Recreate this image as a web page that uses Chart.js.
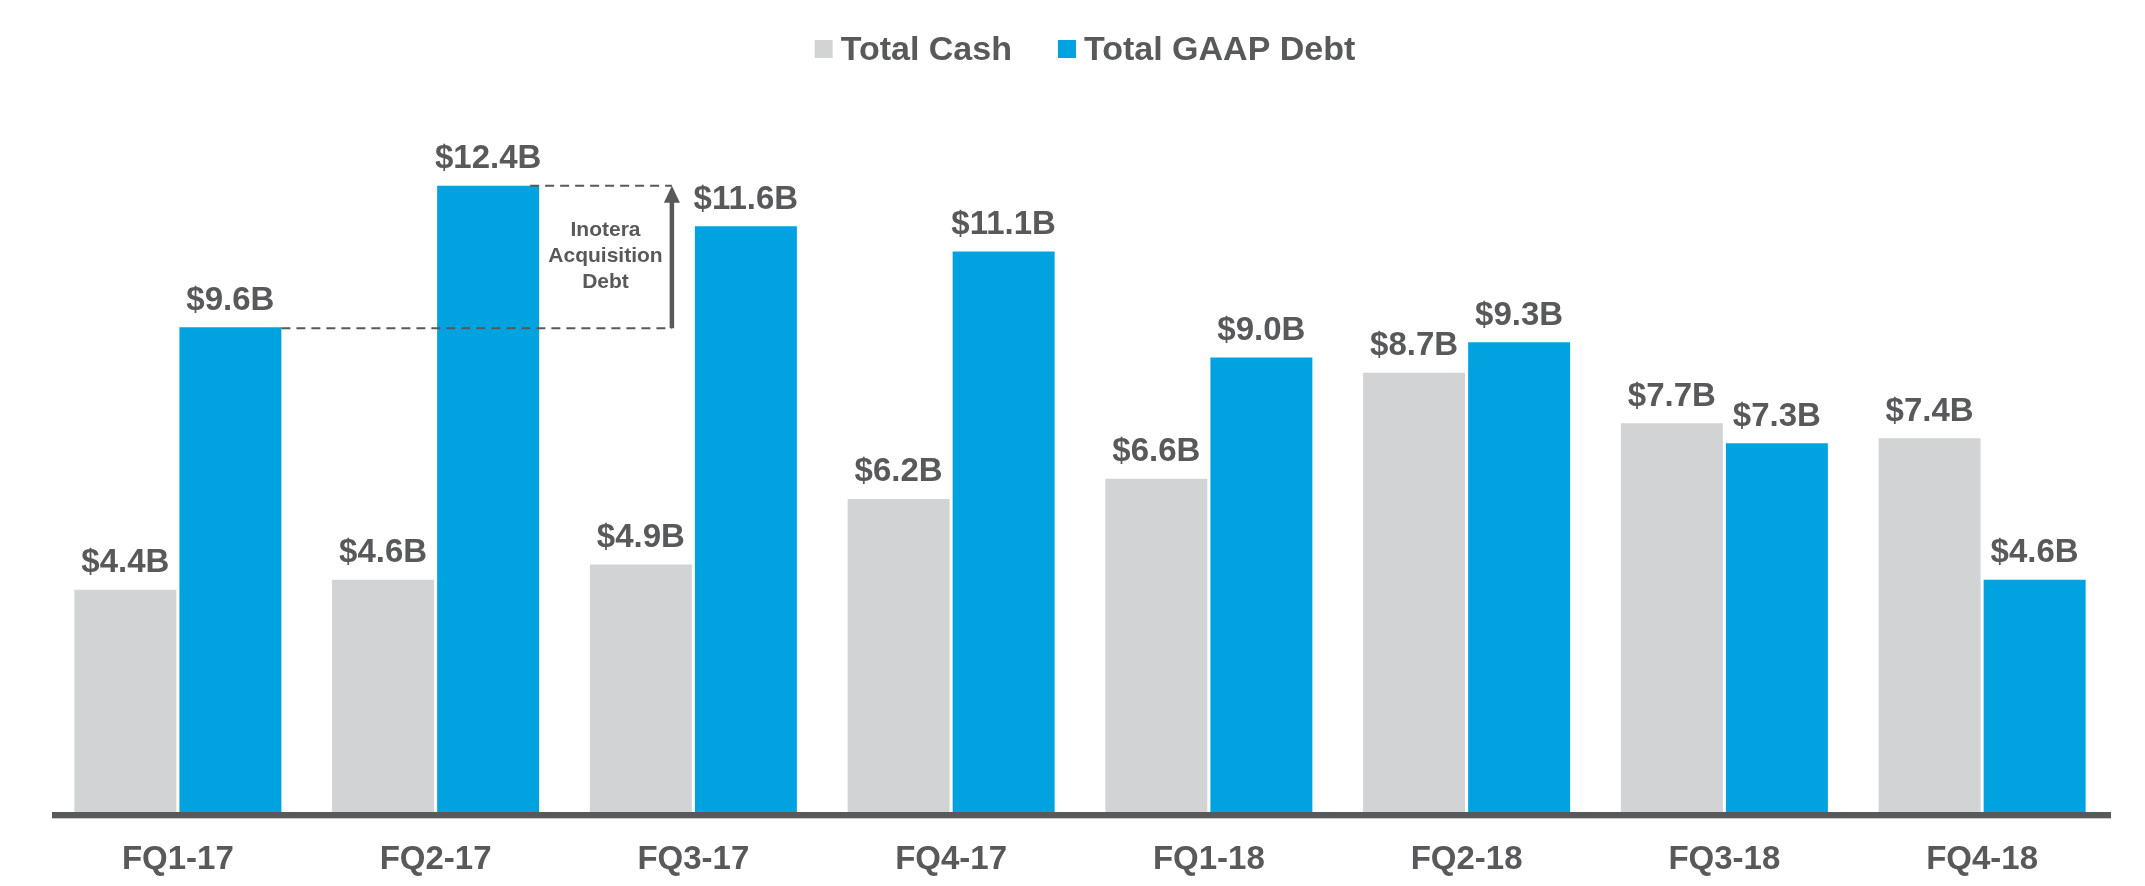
<!DOCTYPE html>
<html>
<head>
<meta charset="utf-8">
<script src="https://cdn.jsdelivr.net/npm/chart.js@4.4.1/dist/chart.umd.min.js"></script>
<style>
html,body{margin:0;padding:0;background:#fff;}
#wrap{width:2145px;height:886px;position:relative;}
</style>
</head>
<body>
<div id="wrap"><canvas id="c"></canvas></div>
<script>
// ---- data ----
const categories = ['FQ1-17','FQ2-17','FQ3-17','FQ4-17','FQ1-18','FQ2-18','FQ3-18','FQ4-18'];
const totalCash = [4.4, 4.6, 4.9, 6.2, 6.6, 8.7, 7.7, 7.4];
const totalDebt = [9.6, 12.4, 11.6, 11.1, 9.0, 9.3, 7.3, 4.6];
const seriesNames = ['Total Cash', 'Total GAAP Debt'];
const annotationLines = ['Inotera', 'Acquisition', 'Debt'];
const annotationFrom = 0; // FQ1-17 debt
const annotationTo = 1;   // FQ2-17 debt

const TEXT = '#58595B';
const GRAY = '#D1D3D4';
const BLUE = '#00A3E0';
const FONT = '"Liberation Sans", Arial, Helvetica, sans-serif';

const fmt = v => '$' + v.toFixed(1) + 'B';

const valueLabels = {
  id: 'valueLabels',
  afterDatasetsDraw(chart) {
    const ctx = chart.ctx;
    ctx.save();
    ctx.font = 'bold 33px ' + FONT;
    ctx.fillStyle = TEXT;
    ctx.textAlign = 'center';
    ctx.textBaseline = 'alphabetic';
    chart.data.datasets.forEach((ds, di) => {
      chart.getDatasetMeta(di).data.forEach((bar, i) => {
        ctx.fillText(fmt(ds.data[i]), bar.x, bar.y - 17.5);
      });
    });
    ctx.restore();
  }
};

const axisLine = {
  id: 'axisLine',
  afterDatasetsDraw(chart) {
    const {ctx, chartArea} = chart;
    ctx.save();
    ctx.fillStyle = TEXT;
    ctx.fillRect(chartArea.left + 3, chartArea.bottom, chartArea.right - chartArea.left - 3, 6);
    ctx.fillStyle = '#C8C9CA';
    ctx.fillRect(chartArea.left + 3, chartArea.bottom + 6, chartArea.right - chartArea.left - 3, 1);
    ctx.restore();
  }
};

const inoteraNote = {
  id: 'inoteraNote',
  afterDatasetsDraw(chart) {
    const ctx = chart.ctx;
    const meta = chart.getDatasetMeta(1).data;
    const y = chart.scales.y;
    const b0 = meta[annotationFrom], b1 = meta[annotationTo], b2 = meta[annotationTo + 1];
    const yLow = y.getPixelForValue(totalDebt[annotationFrom]);
    const yHigh = y.getPixelForValue(totalDebt[annotationTo]);
    const arrowX = b2.x - b2.width / 2 - 23;
    ctx.save();
    ctx.strokeStyle = TEXT;
    ctx.lineWidth = 2;
    ctx.setLineDash([9, 6]);
    ctx.beginPath();
    ctx.moveTo(b0.x + b0.width / 2, yLow + 1);
    ctx.lineTo(arrowX, yLow + 1);
    ctx.moveTo(b1.x + b1.width / 2 - 9, yHigh);
    ctx.lineTo(arrowX, yHigh);
    ctx.stroke();
    ctx.setLineDash([]);
    // arrow shaft
    ctx.lineWidth = 4.5;
    ctx.beginPath();
    ctx.moveTo(arrowX, yLow + 1);
    ctx.lineTo(arrowX, yHigh + 14);
    ctx.stroke();
    // arrow head
    ctx.fillStyle = TEXT;
    ctx.beginPath();
    ctx.moveTo(arrowX, yHigh);
    ctx.lineTo(arrowX - 8, yHigh + 17);
    ctx.lineTo(arrowX + 8, yHigh + 17);
    ctx.closePath();
    ctx.fill();
    // text
    ctx.font = 'bold 21px ' + FONT;
    ctx.textAlign = 'center';
    ctx.textBaseline = 'middle';
    const cx = (b1.x + b1.width / 2 + arrowX) / 2;
    const cy = (yLow + yHigh) / 2;
    const lh = 26;
    annotationLines.forEach((t, i) => {
      ctx.fillText(t, cx, cy + (i - (annotationLines.length - 1) / 2) * lh);
    });
    ctx.restore();
  }
};

const customLegend = {
  id: 'customLegend',
  afterDraw(chart) {
    const {ctx, chartArea} = chart;
    ctx.save();
    ctx.font = 'bold 34px ' + FONT;
    ctx.textBaseline = 'alphabetic';
    ctx.textAlign = 'left';
    const box = 18, gapText = 8, gapItem = 46;
    const items = chart.data.datasets.map(ds => ({label: ds.label, color: ds.backgroundColor, w: ctx.measureText(ds.label).width}));
    const total = items.reduce((s, it) => s + box + gapText + it.w, 0) + gapItem * (items.length - 1);
    let x = (chartArea.left + chartArea.right) / 2 + 5 - total / 2;
    const baseline = 60;
    items.forEach(it => {
      ctx.fillStyle = it.color;
      ctx.fillRect(x, 40, box, box);
      ctx.fillStyle = TEXT;
      ctx.fillText(it.label, x + box + gapText, baseline);
      x += box + gapText + it.w + gapItem;
    });
    ctx.restore();
  }
};

new Chart(document.getElementById('c'), {
  type: 'bar',
  data: {
    labels: categories,
    datasets: [
      {label: seriesNames[0], data: totalCash, backgroundColor: GRAY, categoryPercentage: 0.815, barPercentage: 0.971},
      {label: seriesNames[1], data: totalDebt, backgroundColor: BLUE, categoryPercentage: 0.815, barPercentage: 0.971}
    ]
  },
  options: {
    responsive: true,
    maintainAspectRatio: false,
    animation: false,
    devicePixelRatio: 1,
    layout: {padding: {top: 105, left: 49, right: 34, bottom: -21.6}},
    plugins: {legend: {display: false}, tooltip: {enabled: false}, title: {display: false}},
    scales: {
      x: {
        grid: {display: false, drawTicks: false},
        border: {display: false},
        ticks: {color: TEXT, font: {family: FONT, size: 33, weight: 'bold'}, padding: 28}
      },
      y: {display: false, min: 0, max: 14}
    }
  },
  plugins: [axisLine, inoteraNote, valueLabels, customLegend]
});
</script>
</body>
</html>
